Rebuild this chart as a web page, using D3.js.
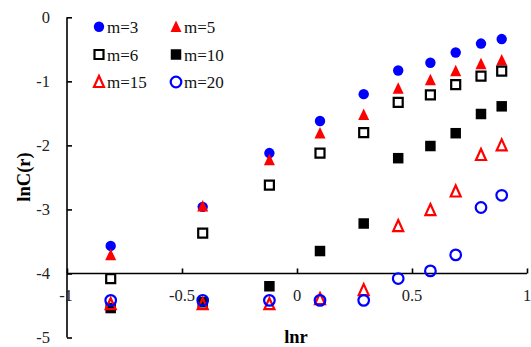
<!DOCTYPE html>
<html>
<head>
<meta charset="utf-8">
<script src="https://cdn.jsdelivr.net/npm/d3@7"></script>
<style>
  html, body { margin: 0; padding: 0; background: #fff; }
  svg { display: block; font-family: "Liberation Serif", "Times New Roman", serif; }
</style>
</head>
<body>
<svg id="chart" width="531" height="347"></svg>
<script>
// ln r values shared by every series
const lnr = [-0.81, -0.41, -0.12, 0.10, 0.29, 0.44, 0.58, 0.69, 0.80, 0.89];

// lnC(r) for each embedding dimension m
const m3  = [-3.57, -2.96, -2.12, -1.62, -1.20, -0.83, -0.71, -0.55, -0.41, -0.34];
const m5  = [-3.71, -2.95, -2.23, -1.81, -1.52, -1.11, -0.98, -0.84, -0.73, -0.67];
const m6  = [-4.08, -3.37, -2.62, -2.12, -1.80, -1.33, -1.21, -1.05, -0.92, -0.84];
const m10 = [-4.54, -4.45, -4.20, -3.65, -3.22, -2.20, -2.01, -1.81, -1.51, -1.39];
const m15 = [-4.48, -4.48, -4.48, -4.40, -4.26, -3.26, -3.01, -2.72, -2.15, -2.00];
const m20 = [-4.42, -4.42, -4.42, -4.42, -4.42, -4.08, -3.96, -3.71, -2.97, -2.78];

const seriesNames = ["m=3", "m=5", "m=6", "m=10", "m=15", "m=20"];
const xTicks = [-1, -0.5, 0, 0.5, 1];
const yTicks = [0, -1, -2, -3, -4, -5];

const series = [
  { name: seriesNames[0], values: m3,  shape: "circle",   fill: "#0000ff", stroke: "none" },
  { name: seriesNames[1], values: m5,  shape: "triangle", fill: "#ff0000", stroke: "none" },
  { name: seriesNames[2], values: m6,  shape: "square",   fill: "#fff",    stroke: "#000" },
  { name: seriesNames[3], values: m10, shape: "square",   fill: "#000",    stroke: "none" },
  { name: seriesNames[4], values: m15, shape: "triangle", fill: "none",    stroke: "#ff0000" },
  { name: seriesNames[5], values: m20, shape: "circle",   fill: "none",    stroke: "#0000ff" }
];

const svg = d3.select("#chart");
const x = d3.scaleLinear().domain([-1, 1]).range([67, 527]);
const y = d3.scaleLinear().domain([0, -5]).range([17.3, 337.5]);

// marker geometry
function markerPath(shape, filled) {
  if (shape === "circle") {
    const r = filled ? 5.2 : 5.3;
    return d3.symbol(d3.symbolCircle, Math.PI * r * r)();
  }
  if (shape === "square") {
    const s = filled ? 10.5 : 9;
    return `M${-s/2},${-s/2}H${s/2}V${s/2}H${-s/2}Z`;
  }
  // triangle pointing up
  const w = filled ? 11 : 10, h = filled ? 10.5 : 10;
  return `M0,${-h/2 - 1}L${w/2},${h/2}L${-w/2},${h/2}Z`;
}

function drawMarker(g, s) {
  const filled = s.stroke === "none";
  g.append("path")
    .attr("d", markerPath(s.shape, filled))
    .attr("fill", s.fill)
    .attr("stroke", s.stroke)
    .attr("stroke-width", filled ? 0 : 2.2)
    .attr("stroke-linejoin", "miter");
}

// axes: y axis at x=-1, x axis crossing at y=-4, ticks pointing inward
const yAxis = d3.axisRight(y).tickValues(yTicks).tickSize(5).tickFormat("");
const yg = svg.append("g").attr("transform", `translate(${x(-1)},0)`).call(yAxis);
yg.select(".domain").attr("d", `M0,${y(0)}V${y(-5)}`);

const xAxis = d3.axisTop(x).tickValues(xTicks).tickSize(5).tickFormat("");
const xg = svg.append("g").attr("transform", `translate(0,${y(-4)})`).call(xAxis);
xg.select(".domain").attr("d", `M${x(-1)},0H${x(1)}`);

svg.selectAll(".domain, .tick line").attr("stroke", "#000").attr("stroke-width", 1.6);

// tick labels
svg.append("g").selectAll("text").data(yTicks).join("text")
  .attr("x", 50).attr("y", d => y(d)).attr("dy", "0.36em")
  .attr("text-anchor", "end").attr("font-size", 16.5).attr("fill", "#222")
  .text(d => d);

svg.append("g").selectAll("text").data(xTicks).join("text")
  .attr("x", d => x(d) - (d === -1 ? 1 : 0)).attr("y", 301)
  .attr("text-anchor", "middle").attr("font-size", 16.5).attr("fill", "#222")
  .text(d => d);

// axis titles
svg.append("text").attr("x", 296).attr("y", 343)
  .attr("text-anchor", "middle").attr("font-size", 18.5).attr("font-weight", "bold")
  .text("lnr");
svg.append("text").attr("transform", "translate(30,177) rotate(-90)")
  .attr("text-anchor", "middle").attr("font-size", 18.5).attr("font-weight", "bold")
  .text("lnC(r)");

// data points
series.forEach(s => {
  const g = svg.append("g");
  s.values.forEach((v, i) => {
    drawMarker(g.append("g").attr("transform", `translate(${x(lnr[i])},${y(v)})`), s);
  });
});

// legend: 3 rows x 2 columns
const legendCols = [99, 176], legendRows = [26.7, 54.5, 82];
series.forEach((s, i) => {
  const cx = legendCols[i % 2], cy = legendRows[Math.floor(i / 2)];
  const g = svg.append("g").attr("transform", `translate(${cx},${cy})`);
  drawMarker(g, s);
  g.append("text").attr("x", 8).attr("y", 0).attr("dy", "0.36em")
    .attr("font-size", 17).attr("fill", "#111").text(s.name);
});
</script>
</body>
</html>
